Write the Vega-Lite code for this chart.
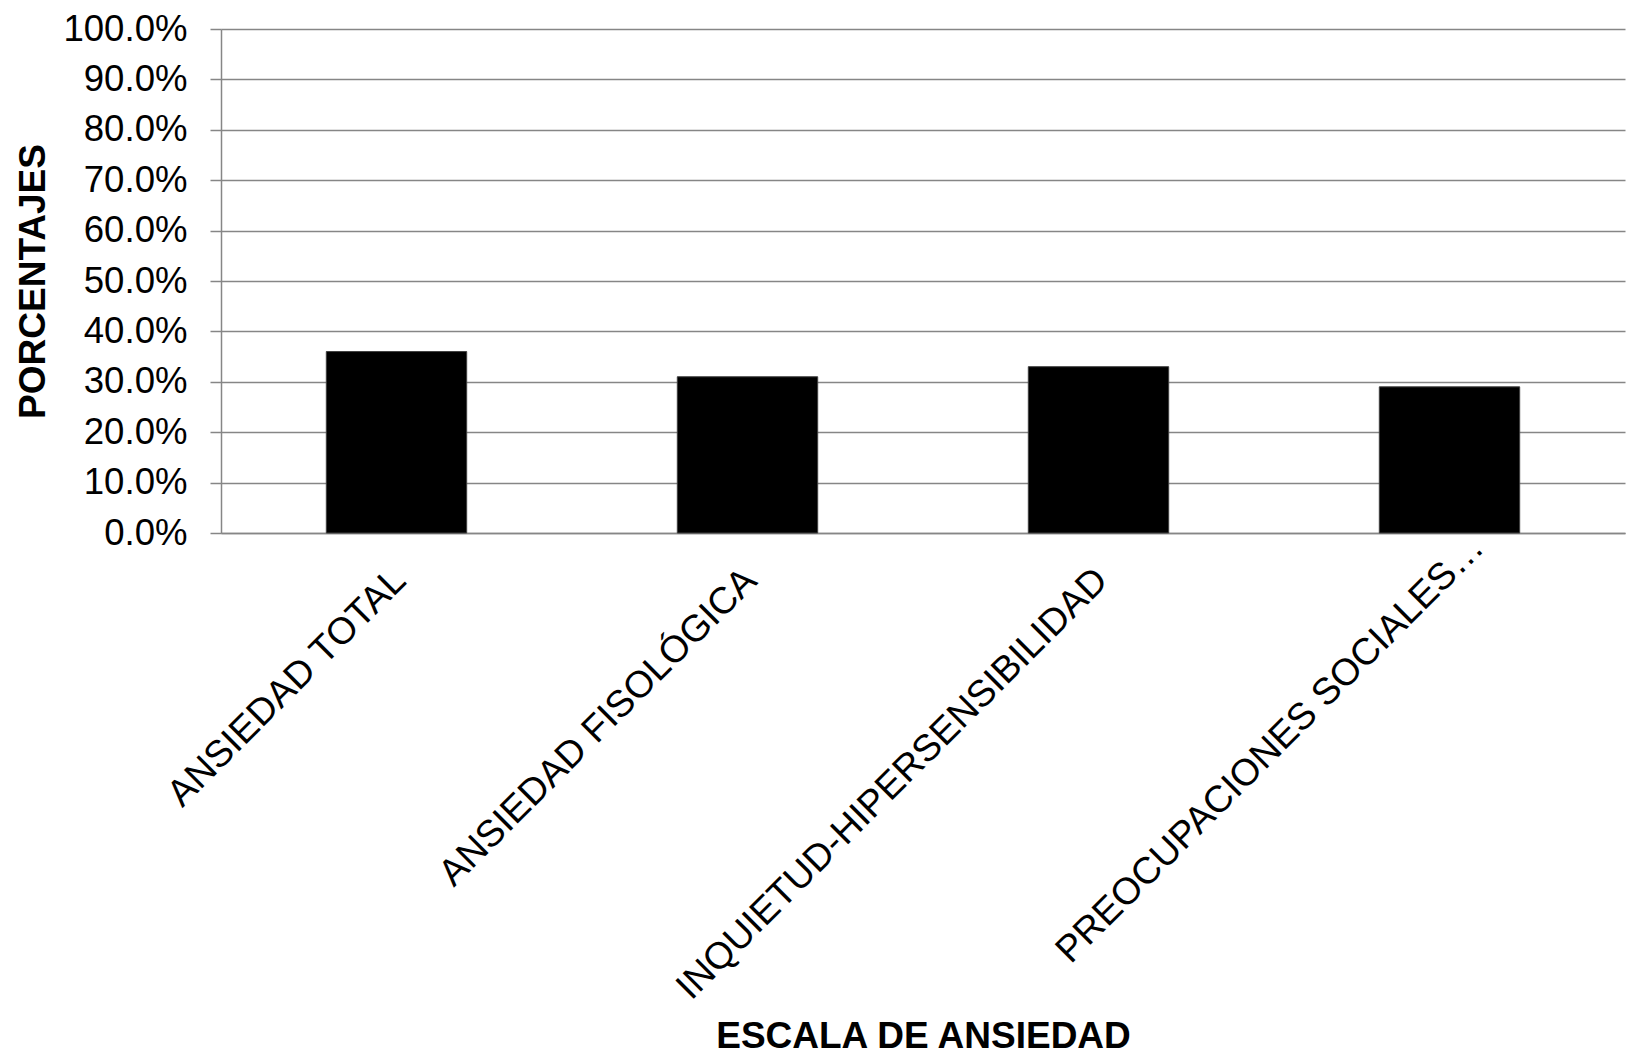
{
  "$schema": "https://vega.github.io/schema/vega-lite/v6.json",
  "width": 1404,
  "height": 504,
  "autosize": {"type": "none"},
  "padding": {"left": 221, "top": 29, "right": 2, "bottom": 528},
  "background": "white",
  "config": {
    "view": {"stroke": null},
    "font": "Liberation Sans",
    "axis": {
      "labelFont": "Liberation Sans",
      "titleFont": "Liberation Sans",
      "labelColor": "black",
      "titleColor": "black",
      "labelFontSize": 36.6,
      "titleFontSize": 37,
      "titleFontWeight": "bold",
      "domainColor": "#868686",
      "domainWidth": 1.5,
      "tickColor": "#868686",
      "tickWidth": 1.5,
      "gridColor": "#868686",
      "gridWidth": 1.5
    }
  },
  "data": {
    "values": [
      {"escala": "ANSIEDAD TOTAL", "porcentaje": 0.36},
      {"escala": "ANSIEDAD FISOLÓGICA", "porcentaje": 0.31},
      {"escala": "INQUIETUD-HIPERSENSIBILIDAD", "porcentaje": 0.33},
      {"escala": "PREOCUPACIONES SOCIALES…", "porcentaje": 0.29}
    ]
  },
  "mark": {"type": "bar", "color": "black", "stroke": "#404040", "strokeWidth": 1},
  "encoding": {
    "x": {
      "field": "escala",
      "type": "nominal",
      "sort": null,
      "scale": {"paddingInner": 0.6, "paddingOuter": 0.3},
      "axis": {
        "title": "ESCALA DE ANSIEDAD",
        "labelAngle": -45,
        "labelAlign": "right",
        "labelBaseline": "top",
        "labelFontSize": 37.5,
        "labelPadding": {
          "condition": {"test": "datum.value === 'PREOCUPACIONES SOCIALES…'", "value": -5},
          "value": 28
        },
        "labelOffset": {
          "condition": {"test": "datum.value === 'PREOCUPACIONES SOCIALES…'", "value": 15},
          "value": -10
        },
        "labelLimit": 0,
        "ticks": false,
        "domain": true,
        "grid": false,
        "titlePadding": 285
      }
    },
    "y": {
      "field": "porcentaje",
      "type": "quantitative",
      "scale": {"domain": [0, 1], "nice": false},
      "axis": {
        "title": "PORCENTAJES",
        "format": ".1%",
        "values": [0, 0.1, 0.2, 0.3, 0.4, 0.5, 0.6, 0.7, 0.8, 0.9, 1.0],
        "tickSize": 11,
        "labelPadding": 23,
        "titlePadding": 10,
        "grid": true
      }
    }
  }
}
